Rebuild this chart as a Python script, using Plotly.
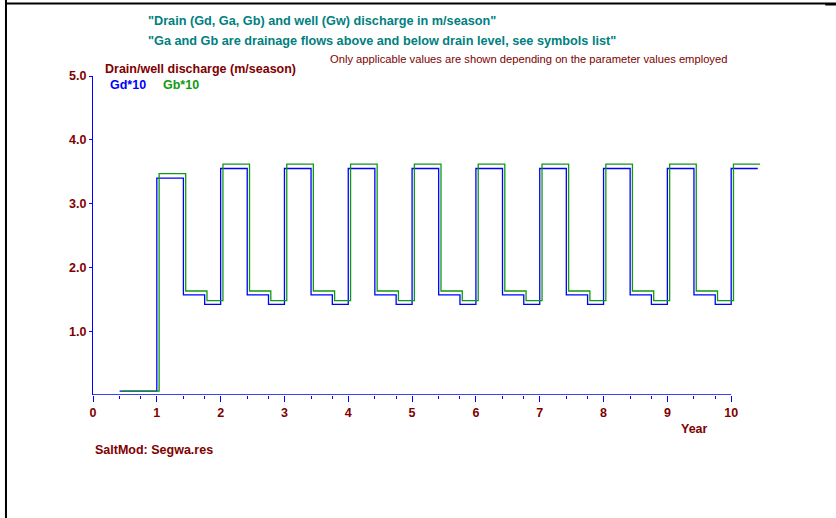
import plotly.graph_objects as go

# --- data -------------------------------------------------------------
# year start (0 = start of year 1) and season start fractions within a year
year_starts = [0, 1, 2, 3, 4, 5, 6, 7, 8, 9, 10]
season_frac = [0.0, 5 / 12, 9 / 12]

# Gd*10 per season (season 1, 2, 3) for each year; None = not shown
gd_s1 = [None, 3.40, 3.55, 3.55, 3.55, 3.55, 3.55, 3.55, 3.55, 3.55, 3.55]
gd_s2 = [0.06, 1.57, 1.57, 1.57, 1.57, 1.57, 1.57, 1.57, 1.57, 1.57, None]
gd_s3 = [0.06, 1.42, 1.42, 1.42, 1.42, 1.42, 1.42, 1.42, 1.42, 1.42, None]

# Gb*10 per season
gb_s1 = [None, 3.47, 3.62, 3.62, 3.62, 3.62, 3.62, 3.62, 3.62, 3.62, 3.62]
gb_s2 = [0.06, 1.63, 1.63, 1.63, 1.63, 1.63, 1.63, 1.63, 1.63, 1.63, None]
gb_s3 = [0.06, 1.48, 1.48, 1.48, 1.48, 1.48, 1.48, 1.48, 1.48, 1.48, None]

x_ticks = [0, 1, 2, 3, 4, 5, 6, 7, 8, 9, 10]
y_ticks = [1.0, 2.0, 3.0, 4.0, 5.0]
y_tick_text = ["1.0", "2.0", "3.0", "4.0", "5.0"]


def step_series(s1, s2, s3):
    """Flatten seasonal values into (time, value) pairs for an hv step line."""
    xs, ys = [], []
    for i, y0 in enumerate(year_starts):
        for frac, vals in zip(season_frac, (s1, s2, s3)):
            v = vals[i]
            if v is not None:
                xs.append(y0 + frac)
                ys.append(v)
    # close the last season
    xs.append(year_starts[-1] + season_frac[1])
    ys.append(ys[-1])
    return xs, ys


gd_x, gd_y = step_series(gd_s1, gd_s2, gd_s3)
gb_x, gb_y = step_series(gb_s1, gb_s2, gb_s3)

# --- layout geometry --------------------------------------------------
W, H = 836, 518
L, T, B = 93, 76, 123
X_MAX = 11.0
PXU = 63.8                      # pixels per year
R = W - L - X_MAX * PXU
PW = W - L - R
PH = H - T - B
GB_SHIFT = 2.3 / PXU            # small sideways offset so lines don't overlap

DARKRED = "#800000"
TEAL = "#008080"
BLUE = "#0000FF"
GREEN = "#119911"
FONT = "Liberation Sans"


def pxx(x):
    return (x - L) / PW


def pxy(y):
    return (H - B - y) / PH


fig = go.Figure()
fig.add_trace(go.Scatter(
    x=gd_x, y=gd_y, mode="lines", line=dict(color=BLUE, width=1.3, shape="hv"),
    name="Gd*10", hoverinfo="skip"))
fig.add_trace(go.Scatter(
    x=gb_x, y=gb_y, mode="lines", line=dict(color=GREEN, width=1.3, shape="hv"),
    name="Gb*10", xaxis="x2", hoverinfo="skip"))

minor_vals = [y0 + f for y0 in year_starts[:-1] for f in season_frac[1:]]

fig.update_layout(
    width=W, height=H,
    margin=dict(l=L, r=R, t=T, b=B),
    paper_bgcolor="white", plot_bgcolor="white",
    showlegend=False,
    font=dict(family=FONT),
    xaxis=dict(
        range=[0, X_MAX], showgrid=False, zeroline=False, showline=False,
        tickvals=x_ticks, ticktext=[str(v) for v in x_ticks],
        ticks="outside", ticklen=6, tickwidth=1, tickcolor=BLUE,
        tickfont=dict(family=FONT, size=12.5, color=DARKRED, weight="bold"),
        minor=dict(tickvals=minor_vals, ticks="outside", ticklen=3,
                   tickwidth=1, tickcolor=BLUE, showgrid=False),
    ),
    xaxis2=dict(range=[-GB_SHIFT, X_MAX - GB_SHIFT], overlaying="x",
                visible=False),
    yaxis=dict(
        range=[0, 5], showgrid=False, zeroline=False,
        showline=True, linecolor=BLUE, linewidth=1.3,
        tickvals=y_ticks, ticktext=y_tick_text,
        ticks="outside", ticklen=3, tickwidth=1, tickcolor=BLUE,
        tickfont=dict(family=FONT, size=12.5, color=DARKRED, weight="bold"),
    ),
)

# x axis line ends at year 10
fig.add_shape(type="line", xref="x", yref="y", x0=0, x1=10, y0=0, y1=0,
              line=dict(color=BLUE, width=1.3))

# window frame
fig.add_shape(type="line", xref="paper", yref="paper",
              x0=pxx(6), x1=pxx(6), y0=pxy(0), y1=pxy(H),
              line=dict(color="black", width=2))
fig.add_shape(type="line", xref="paper", yref="paper",
              x0=pxx(6), x1=pxx(W), y0=pxy(3.5), y1=pxy(3.5),
              line=dict(color="black", width=2))
fig.add_shape(type="line", xref="paper", yref="paper",
              x0=pxx(825), x1=pxx(W), y0=pxy(4.5), y1=pxy(4.5),
              line=dict(color="black", width=2))


def label(text, x, y, color, size=12, bold=True):
    fig.add_annotation(
        text=text, x=pxx(x), y=pxy(y), xref="paper", yref="paper",
        xanchor="left", yanchor="middle", showarrow=False,
        font=dict(family=FONT, size=size, color=color,
                  weight="bold" if bold else "normal"))


label('"Drain (Gd, Ga, Gb) and well (Gw) discharge in m/season"', 146, 21, TEAL, 12.7)
label('"Ga and Gb are drainage flows above and below drain level, see symbols list"',
      146, 41, TEAL, 12.7)
label("Only applicable values are shown depending on the parameter values employed",
      328, 59, DARKRED, 11.2, bold=False)
label("Drain/well discharge (m/season)", 103, 69, DARKRED, 12.5)
label("Gd*10", 108, 85, BLUE, 12.5)
label("Gb*10", 161, 85, GREEN, 12.5)
label("Year", 679, 429, DARKRED, 12.5)
label("SaltMod: Segwa.res", 93, 450, DARKRED, 12.5)

fig.write_html("out.html")
